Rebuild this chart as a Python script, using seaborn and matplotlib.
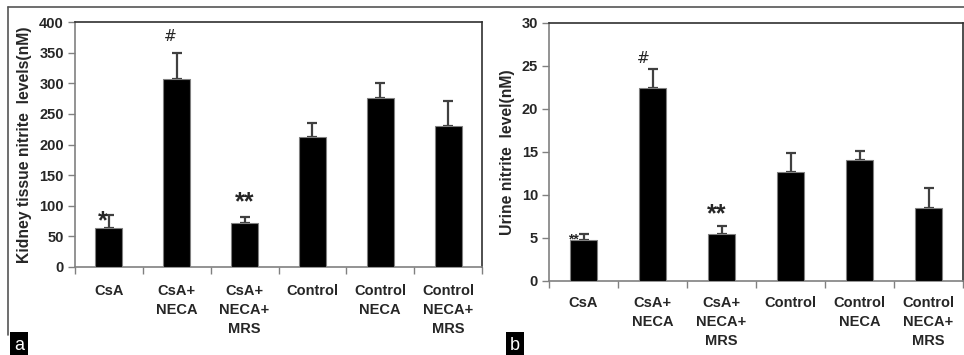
import matplotlib
matplotlib.use('Agg')
import matplotlib.pyplot as plt
import numpy as np
import pandas as pd
import seaborn as sns
from matplotlib.lines import Line2D

# values
groups = ['CsA', 'CsA+\nNECA', 'CsA+\nNECA+\nMRS', 'Control', 'Control\nNECA', 'Control\nNECA+\nMRS']
kidney_mean = [63.8, 306.7, 72.0, 211.7, 276.7, 229.7]
kidney_err = [20.8, 43.3, 9.9, 22.9, 22.9, 42.1]
urine_mean = [4.76, 22.4, 5.46, 12.7, 14.05, 8.44]
urine_err = [0.70, 2.2, 0.93, 2.2, 1.05, 2.4]

sns.set_style('white')
plt.rcParams['font.family'] = ['Liberation Sans', 'DejaVu Sans']

W, H = 964, 355
fig = plt.figure(figsize=(W / 100, H / 100), dpi=100)


def px_axes(l, t, r, b):
    return fig.add_axes([l / W, 1 - b / H, (r - l) / W, (b - t) / H])


def draw_panel(ax, means, errs, ymax, ystep, ylabel, label_pad):
    df = pd.DataFrame({'group': groups, 'value': means})
    sns.barplot(data=df, x='group', y='value', color='black', width=0.4,
                edgecolor='#808080', linewidth=0.8, saturation=1, ax=ax, zorder=3)
    x = np.arange(len(groups))
    ax.errorbar(x, means, yerr=[np.zeros(len(errs)), errs], fmt='none',
                ecolor='#404040', elinewidth=1.6, capsize=3.5, capthick=1.6, zorder=2)
    ax.set_xlim(-0.5, len(groups) - 0.5)
    ax.set_ylim(0, ymax)
    ax.set_yticks(np.arange(0, ymax + 1e-9, ystep))
    ax.set_yticklabels([f'{v:g}' for v in np.arange(0, ymax + 1e-9, ystep)],
                       fontsize=10.5, fontweight='bold')
    ax.set_xticks(np.arange(-0.5, len(groups), 1))
    ax.set_xticklabels([])
    ax.set_xticks(x, minor=True)
    ax.set_xticklabels(groups, minor=True, fontsize=10.5, fontweight='bold',
                       linespacing=1.45, va='top')
    ax.tick_params(axis='x', which='major', direction='out', length=5,
                   width=1, color='#808080', bottom=True)
    ax.tick_params(axis='x', which='minor', length=0, pad=label_pad)
    ax.tick_params(axis='y', direction='out', length=5, width=1,
                   color='#808080', left=True, pad=3)
    ax.set_xlabel('')
    ax.set_ylabel(ylabel, fontsize=11.3, fontweight='bold', labelpad=5)
    for side in ['left', 'bottom']:
        ax.spines[side].set_color('#808080')
        ax.spines[side].set_linewidth(1.2)
    for side in ['top', 'right']:
        ax.spines[side].set_color('#303030')
        ax.spines[side].set_linewidth(1.2)
        ax.spines[side].set_visible(True)


ax_a = px_axes(75, 22, 482, 267)
draw_panel(ax_a, kidney_mean, kidney_err, 400, 50,
           'Kidney tissue nitrite  levels(nM)', 12)
ax_a.text(-0.09, 74, '*', fontsize=18, fontweight='bold', ha='center', va='center', zorder=5)
ax_a.text(0.91, 376, '#', fontsize=11, ha='center', va='center', family='DejaVu Sans', zorder=5)
ax_a.text(2.0, 106, '**', fontsize=18, fontweight='bold', ha='center', va='center', zorder=5)

ax_b = px_axes(549, 23, 963, 281)
draw_panel(ax_b, urine_mean, urine_err, 30, 5,
           'Urine nitrite  level(nM)', 11)
ax_b.text(-0.14, 4.85, '**', fontsize=10, fontweight='bold', ha='center', va='center', zorder=1)
ax_b.text(0.86, 25.9, '#', fontsize=11, ha='center', va='center', family='DejaVu Sans', zorder=5)
ax_b.text(1.93, 7.8, '**', fontsize=18, fontweight='bold', ha='center', va='center', zorder=5)

# frame lines of the original figure
fig.add_artist(Line2D([8 / W, 1], [1 - 7 / H, 1 - 7 / H], color='#555555', lw=1.2))
fig.add_artist(Line2D([8 / W, 8 / W], [1 - 7 / H, 1 - 335 / H], color='#555555', lw=1.2))

# panel letters
fig.text(19 / W, 1 - 345 / H, 'a', color='white', fontsize=13, ha='center', va='center',
         bbox=dict(facecolor='black', edgecolor='none', pad=3))
fig.text(515 / W, 1 - 345 / H, 'b', color='white', fontsize=13, ha='center', va='center',
         bbox=dict(facecolor='black', edgecolor='none', pad=3))

fig.savefig('out.png', dpi=100)
